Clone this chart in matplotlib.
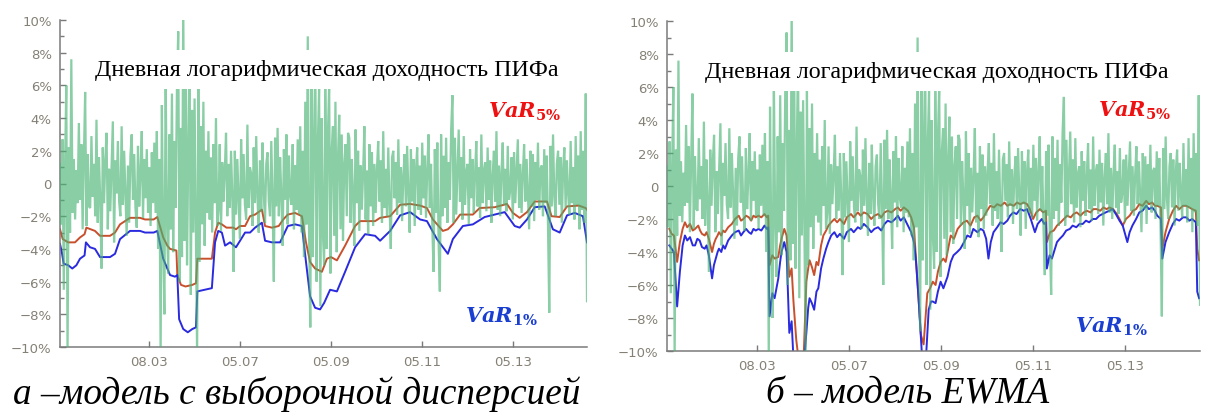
import numpy as np
import matplotlib
matplotlib.use('Agg')
import matplotlib.pyplot as plt
from matplotlib.ticker import MultipleLocator, FixedLocator


# daily log return of the fund, % (same in both panels)
ret_start, ret_end = 2003.04, 2014.63
returns = [
    # 2003 - mid 2003
    1.2, -2.5, 2.7, -6.5, 1.0, 6.0, -10.5, 2.2, -3.0, 7.6, -1.8, 1.5, -2.2, 0.8, -1.2, 3.7,
    -1.0, 2.4, -2.8, 1.6, 5.6, -2.6, 1.8, -1.4,
    # mid 2003 - 2005
    -1.5, 2.9, -0.8, 1.2, -2.0, 3.9, -2.4, 1.6, -1.0, -5.2, 2.2, -1.2, 1.4, 3.1, -2.8, 0.9,
    -1.7, 1.1, 3.8, -3.6, 1.4, -0.6, 2.6, -1.1, -2.0, 3.5, -1.3, 2.0, -0.7, -3.2, 1.1, -2.4,
    1.7, 3.0, -1.0, 1.8, -1.5, -2.7, 2.3, -1.4, 0.6, 3.2, -2.1, 1.5, -0.9, 2.1, -1.8, 1.0,
    -2.6, 1.9, -1.2,
    # first turbulent period
    2.5, -1.8, 3.2, -4.0, 1.5, -10.5, 4.8, -3.5, -8.0, 6.5, -2.0, -5.5, 3.0, -2.8, 5.5, -4.2,
    2.6, -1.5, 6.0, 9.3, -6.0, 3.4, -4.5, 11.0, -3.5, 7.0, -5.0, 2.0, 8.0, -6.8, 4.5, -3.0,
    5.2, -2.4, -10.5, 6.0, -4.8, 3.5, -2.5, 5.0, -3.8, 2.0, -1.8, 3.2, -2.2, 1.6, -3.0, 2.4,
    -1.2, 4.0, -2.6,
    # mid 2006 - 2008
    -1.6, 2.4, -2.9, 1.3, -1.1, 0.7, 3.1, -2.0, 1.2, -1.5, 2.0, -0.8, -5.4, 2.0, -1.9, 1.5,
    -0.9, -3.4, 2.7, -0.9, 1.8, -1.3, -2.2, 3.6, -1.5, 1.0, 0.6, -2.6, 2.2, -1.2, 2.9, -0.8,
    -3.0, 1.4, -1.7, 2.5, -0.6, -2.4, 1.2, 1.9, -1.1, -2.0, 2.6, -1.0, -6.0, 2.8, -1.4, 3.4,
    -2.0, 1.6, -0.8, -3.8, 2.1, -1.0, 3.0, -2.5, 1.7, -0.7, -1.3, 2.4, -2.8, 1.1, -1.6, 2.7,
    -1.9,
    # crisis 2008
    3.5, -3.0, 2.0, -4.5, 5.0, -2.5, 9.0, -3.0, -8.8, 6.5, -4.5, 3.0, 7.5, -6.0, 2.5, 5.8,
    -7.5, 4.0, -3.0, -5.0, 8.0, -4.0, 3.0, 6.0, -5.5, 2.0, 3.5, -3.2, 5.0, -4.2, 1.5, 4.2,
    -2.8, 3.0, -3.5, 1.2, 2.4, -2.0, 3.1,
    # 2009 - 2014
    2.8, -2.4, 1.5, -0.8, -3.8, 3.3, -1.2, 2.0, -2.9, 1.1,
    -1.6, 0.7, 3.5, -2.2, 0.8, -3.1, 2.4, -1.4, 1.9, -2.6,
    1.2, -1.8, 0.9, 2.6, -1.1, 1.4, -2.4, 3.2, -1.5, 0.9,
    -2.0, 2.2, -1.3, -4.0, 1.6, 2.0, -0.9, 1.3, -1.9, 2.7,
    -1.2, 1.0, -2.3, 0.6, 1.8, -1.4, 2.3, -0.7, -3.0, 2.1,
    -1.1, 1.5, -2.6, 0.8, 2.2, -1.6, 1.1, -1.9, 2.5, -0.9,
    1.7, -2.1, 0.9, 3.0, -1.5, 1.2, -2.6, -5.4, 2.1, -1.8,
    2.5, -3.6, -6.6, 3.0, -2.0, 1.7, -1.5, 2.8, -2.4, 1.3,
    -1.0, 3.3, 5.4, -2.4, 2.8, -1.9, 0.8, 3.3, -1.1, 1.6,
    -2.2, 2.9, -1.3, 0.7, 1.2, -2.5, 2.1, -0.9, 1.5, -1.8,
    0.6, 2.6, -1.4, 1.0, -2.1, 3.0, -1.2, 0.8, 1.3, -1.7,
    2.2, -1.0, 1.4, -2.4, 0.5, 2.0, -1.1, 3.2, -1.6, 1.1,
    -2.0, 0.7, 2.5, -1.3, 0.9, -1.7, 2.3, -1.0, -0.4, 1.6,
    -2.2, 1.9, -1.2, 0.8, 2.7, -1.5, 1.2, -1.8, 0.6, 2.4,
    -1.1, 1.5, -0.7, -2.8, 2.0, -1.4, 1.8, -2.3, 1.3, -1.0,
    2.5, -1.6, 0.9, 1.1, -2.0, 2.1, -1.2, 1.7, -2.6, -7.9,
    2.3, -1.4, 3.0, -0.8, -2.0, 1.2, 2.0, -1.3, 1.6, -2.4,
    0.9, 2.2, -1.5, 1.4, -0.6, -1.9, 2.6, -1.2, 1.0, -2.2,
    2.9, -1.3, 1.7, -2.8, 3.2, -1.6, 2.0, -2.4, 5.5, -7.2,
]

# panel a: sample variance model
var5_a_t = [2003.04, 2003.10, 2003.22, 2003.37, 2003.48, 2003.58, 2003.62, 2003.81, 2003.92,
            2004.14, 2004.25, 2004.36, 2004.58, 2004.80, 2004.91, 2005.10, 2005.18, 2005.31,
            2005.40, 2005.46, 2005.60, 2005.62, 2005.70, 2005.80, 2005.95, 2006.03, 2006.06,
            2006.38, 2006.45, 2006.52, 2006.60, 2006.70, 2006.85, 2006.91, 2007.00, 2007.11,
            2007.22, 2007.33, 2007.48, 2007.55, 2007.70, 2007.85, 2007.95, 2008.05, 2008.21,
            2008.36, 2008.45, 2008.54, 2008.65, 2008.80, 2008.91, 2009.00, 2009.13, 2009.31,
            2009.53, 2009.64, 2009.97, 2010.08, 2010.30, 2010.52, 2010.74, 2010.96, 2011.11,
            2011.24, 2011.46, 2011.57, 2011.68, 2011.84, 2012.12, 2012.27, 2012.60, 2012.87,
            2013.00, 2013.15, 2013.31, 2013.48, 2013.75, 2013.85, 2014.03, 2014.19, 2014.45,
            2014.60, 2014.63]
var5_a = [-2.8, -3.4, -3.6, -3.6, -3.3, -3.1, -2.7, -2.9, -3.2,
          -3.2, -3.0, -2.5, -2.1, -2.1, -2.2, -2.2, -2.05, -3.3,
          -3.8, -4.0, -4.1, -5.6, -6.2, -6.3, -6.2, -6.1, -4.6,
          -4.6, -3.0, -2.4, -2.5, -2.7, -2.7, -2.8, -2.6, -2.6,
          -2.0, -1.9, -1.6, -2.6, -2.7, -2.6, -2.2, -1.9, -1.8,
          -2.0, -3.6, -4.8, -5.2, -5.4, -4.6, -4.5, -4.7, -3.8,
          -2.6, -2.3, -2.3, -2.1, -2.0, -1.3, -1.25, -1.35, -1.5,
          -2.2, -2.9, -2.8, -2.5, -1.9, -1.9, -1.5, -1.45, -1.25,
          -1.8, -2.1, -1.75, -1.1, -1.1, -2.0, -2.05, -1.4, -1.35,
          -1.5, -1.6]

var1_a_t = [2003.04, 2003.08, 2003.12, 2003.22, 2003.31, 2003.40, 2003.48, 2003.58, 2003.61,
            2003.70, 2003.81, 2003.92, 2004.14, 2004.25, 2004.36, 2004.58, 2004.80, 2004.91,
            2005.10, 2005.18, 2005.31, 2005.46, 2005.57, 2005.62, 2005.66, 2005.75, 2005.85,
            2005.95, 2006.03, 2006.06, 2006.38, 2006.45, 2006.52, 2006.60, 2006.67, 2006.78,
            2006.91, 2007.00, 2007.11, 2007.22, 2007.33, 2007.48, 2007.55, 2007.70, 2007.88,
            2008.05, 2008.21, 2008.36, 2008.45, 2008.54, 2008.65, 2008.76, 2008.85, 2008.98,
            2009.13, 2009.31, 2009.53, 2009.75, 2009.97, 2010.08, 2010.30, 2010.52, 2010.74,
            2010.96, 2011.11, 2011.33, 2011.57, 2011.68, 2011.90, 2012.12, 2012.38, 2012.82,
            2013.04, 2013.15, 2013.31, 2013.48, 2013.70, 2013.88, 2014.03, 2014.19, 2014.36,
            2014.54, 2014.63]
var1_a = [-3.7, -4.2, -4.9, -5.0, -5.2, -5.0, -4.6, -4.4, -3.6,
          -3.9, -4.0, -4.5, -4.5, -4.3, -3.4, -2.9, -2.9, -3.0,
          -3.0, -2.9, -4.6, -5.6, -5.7, -5.6, -8.3, -8.9, -9.1,
          -8.9, -8.8, -6.6, -6.4, -3.6, -2.9, -3.0, -3.8, -3.6,
          -3.9, -3.5, -3.0, -3.0, -2.7, -2.4, -3.5, -3.6, -3.6,
          -2.6, -2.5, -2.6, -4.8, -6.9, -7.6, -7.7, -7.3, -6.5,
          -6.6, -5.4, -3.9, -3.1, -3.2, -3.5, -2.9, -1.95, -1.75,
          -2.2, -2.3, -3.4, -4.3, -3.4, -2.6, -2.5, -2.05, -1.75,
          -2.6, -2.7, -2.2, -1.45, -1.4, -2.8, -3.0, -1.95, -1.8,
          -2.0, -3.6]

# panel b: EWMA model, (year, %) pairs
var5_b_pts = [
    (2003.09, -2.6), (2003.14, -2.9), (2003.19, -3.0), (2003.26, -4.6), (2003.32, -3.4),
    (2003.38, -2.6), (2003.43, -2.2), (2003.48, -2.5), (2003.54, -2.3), (2003.60, -2.7),
    (2003.65, -2.6), (2003.72, -2.4), (2003.76, -2.7), (2003.80, -2.9), (2003.86, -3.0),
    (2003.90, -2.8), (2003.95, -3.2), (2004.02, -4.0), (2004.06, -3.5), (2004.10, -3.2),
    (2004.14, -3.0), (2004.17, -2.8), (2004.22, -3.0), (2004.26, -2.7), (2004.30, -2.8),
    (2004.37, -2.5), (2004.45, -2.3), (2004.52, -2.0), (2004.60, -1.8), (2004.65, -2.1),
    (2004.70, -2.0), (2004.76, -1.8), (2004.82, -1.9), (2004.87, -2.1), (2004.92, -1.8),
    (2004.97, -1.9), (2005.03, -1.8), (2005.09, -1.9), (2005.16, -1.7), (2005.21, -1.9),
    (2005.24, -1.8), (2005.27, -4.8), (2005.33, -4.2), (2005.38, -4.4), (2005.46, -4.3),
    (2005.50, -3.6), (2005.53, -3.2), (2005.59, -2.6), (2005.64, -3.0), (2005.70, -5.5),
    (2005.75, -5.0), (2005.79, -7.0), (2005.85, -9.3), (2005.90, -10.5), (2006.01, -10.5),
    (2006.07, -5.8), (2006.11, -5.0), (2006.14, -4.5), (2006.19, -4.9), (2006.24, -5.4),
    (2006.29, -4.6), (2006.33, -4.8), (2006.39, -3.6), (2006.44, -3.0), (2006.50, -2.7),
    (2006.55, -2.4), (2006.61, -2.2), (2006.68, -2.0), (2006.74, -2.2), (2006.80, -2.0),
    (2006.89, -2.3), (2006.95, -1.9), (2007.04, -1.7), (2007.10, -1.9), (2007.19, -1.6),
    (2007.25, -1.8), (2007.32, -1.6), (2007.40, -1.7), (2007.48, -2.0), (2007.55, -1.8),
    (2007.63, -1.7), (2007.70, -1.9), (2007.77, -1.6), (2007.84, -1.5), (2007.92, -1.6),
    (2008.00, -1.4), (2008.06, -1.3), (2008.12, -1.5), (2008.19, -1.3), (2008.28, -1.5),
    (2008.35, -1.9), (2008.41, -2.5), (2008.49, -6.0), (2008.56, -9.0), (2008.62, -9.6),
    (2008.70, -6.5), (2008.76, -6.2), (2008.82, -5.8), (2008.88, -6.0), (2008.93, -5.2),
    (2008.99, -4.6), (2009.05, -4.4), (2009.10, -4.6), (2009.14, -4.0), (2009.21, -3.0),
    (2009.28, -3.2), (2009.36, -2.6), (2009.42, -2.4), (2009.49, -2.2), (2009.56, -2.1),
    (2009.64, -2.4), (2009.72, -1.9), (2009.79, -1.8), (2009.86, -2.1), (2009.92, -1.9),
    (2010.00, -1.5), (2010.07, -1.2), (2010.15, -1.3), (2010.22, -1.1), (2010.30, -1.2),
    (2010.38, -1.0), (2010.44, -1.2), (2010.50, -1.1), (2010.58, -1.2), (2010.65, -1.0),
    (2010.72, -1.1), (2010.80, -1.0), (2010.87, -1.1), (2010.93, -1.4), (2011.00, -2.0),
    (2011.07, -1.6), (2011.15, -1.4), (2011.22, -1.6), (2011.28, -1.5), (2011.30, -3.4),
    (2011.37, -2.8), (2011.45, -2.7), (2011.52, -2.4), (2011.60, -2.2), (2011.67, -2.0),
    (2011.74, -1.8), (2011.82, -1.9), (2011.88, -1.7), (2011.95, -1.6), (2012.03, -1.8),
    (2012.10, -1.6), (2012.17, -1.5), (2012.25, -1.6), (2012.31, -1.4), (2012.38, -1.4),
    (2012.46, -1.5), (2012.53, -1.3), (2012.60, -1.4), (2012.66, -1.3), (2012.74, -1.4),
    (2012.82, -1.7), (2012.88, -2.0), (2012.95, -2.4), (2013.02, -2.0), (2013.10, -1.8),
    (2013.17, -1.5), (2013.24, -1.4), (2013.31, -1.1), (2013.38, -1.2), (2013.46, -0.9),
    (2013.52, -1.1), (2013.59, -1.0), (2013.65, -1.2), (2013.70, -1.2), (2013.78, -1.3),
    (2013.81, -3.8), (2013.88, -2.8), (2013.96, -2.0), (2014.04, -1.5), (2014.11, -1.2),
    (2014.18, -1.4), (2014.26, -1.2), (2014.33, -1.2), (2014.40, -1.3), (2014.46, -1.4),
    (2014.54, -1.5), (2014.57, -3.8), (2014.61, -4.5),
]

var1_b_pts = [
    (2003.09, -3.6), (2003.14, -3.8), (2003.19, -4.0), (2003.26, -7.3), (2003.32, -5.2),
    (2003.38, -3.6), (2003.43, -3.0), (2003.48, -3.3), (2003.54, -3.1), (2003.60, -3.6),
    (2003.65, -3.6), (2003.70, -3.2), (2003.75, -3.3), (2003.80, -3.7), (2003.86, -3.8),
    (2003.90, -3.6), (2003.95, -4.2), (2004.02, -5.6), (2004.06, -4.8), (2004.10, -4.4),
    (2004.14, -4.0), (2004.17, -3.8), (2004.22, -4.0), (2004.26, -3.6), (2004.30, -3.8),
    (2004.37, -3.3), (2004.45, -3.0), (2004.52, -2.8), (2004.60, -2.7), (2004.65, -3.0),
    (2004.70, -2.8), (2004.76, -2.6), (2004.82, -2.8), (2004.87, -2.9), (2004.92, -2.6),
    (2004.97, -2.7), (2005.03, -2.6), (2005.09, -2.7), (2005.16, -2.4), (2005.21, -2.6),
    (2005.24, -2.5), (2005.27, -7.9), (2005.33, -6.5), (2005.38, -6.8), (2005.46, -5.6),
    (2005.50, -4.6), (2005.53, -4.0), (2005.59, -3.4), (2005.64, -4.0), (2005.70, -8.9),
    (2005.75, -8.2), (2005.79, -10.5), (2005.85, -11.0), (2006.01, -11.0), (2006.07, -8.9),
    (2006.11, -7.4), (2006.14, -6.8), (2006.19, -7.1), (2006.24, -7.5), (2006.29, -6.4),
    (2006.33, -6.2), (2006.39, -5.0), (2006.44, -4.4), (2006.50, -3.8), (2006.55, -3.4),
    (2006.61, -3.0), (2006.68, -2.8), (2006.74, -3.1), (2006.80, -2.9), (2006.89, -3.2),
    (2006.95, -2.8), (2007.04, -2.6), (2007.10, -2.8), (2007.19, -2.5), (2007.25, -2.6),
    (2007.32, -2.3), (2007.40, -2.5), (2007.48, -2.8), (2007.55, -2.6), (2007.63, -2.5),
    (2007.70, -2.7), (2007.77, -2.3), (2007.84, -2.1), (2007.92, -2.2), (2008.00, -2.0),
    (2008.06, -1.8), (2008.12, -2.1), (2008.19, -1.9), (2008.28, -2.4), (2008.35, -2.8),
    (2008.41, -3.4), (2008.45, -4.4), (2008.51, -6.8), (2008.60, -11.0), (2008.66, -11.0),
    (2008.73, -7.5), (2008.78, -7.0), (2008.82, -7.0), (2008.88, -7.1), (2008.93, -6.4),
    (2008.99, -5.8), (2009.05, -6.2), (2009.10, -5.8), (2009.14, -5.5), (2009.21, -4.6),
    (2009.27, -4.2), (2009.35, -4.0), (2009.42, -3.8), (2009.50, -3.4), (2009.57, -3.0),
    (2009.64, -3.1), (2009.70, -2.6), (2009.79, -2.8), (2009.86, -2.6), (2009.92, -2.7),
    (2009.98, -3.2), (2010.03, -4.4), (2010.08, -3.4), (2010.14, -2.8), (2010.22, -2.5),
    (2010.29, -2.2), (2010.36, -2.3), (2010.44, -2.1), (2010.50, -1.8), (2010.57, -1.6),
    (2010.64, -1.7), (2010.72, -1.4), (2010.80, -1.5), (2010.87, -1.4), (2010.95, -2.0),
    (2011.04, -2.8), (2011.10, -2.3), (2011.19, -2.0), (2011.24, -2.3), (2011.28, -2.2),
    (2011.30, -5.0), (2011.36, -4.2), (2011.41, -4.4), (2011.52, -3.4), (2011.58, -3.2),
    (2011.65, -3.0), (2011.72, -2.7), (2011.80, -2.6), (2011.86, -2.4), (2011.94, -2.5),
    (2012.01, -2.3), (2012.08, -2.3), (2012.15, -2.1), (2012.22, -2.2), (2012.30, -2.0),
    (2012.37, -2.0), (2012.44, -1.8), (2012.51, -1.7), (2012.58, -1.6), (2012.66, -1.5),
    (2012.73, -1.4), (2012.80, -1.7), (2012.88, -2.1), (2012.95, -2.4), (2013.05, -3.4),
    (2013.10, -2.8), (2013.16, -2.4), (2013.24, -2.0), (2013.31, -1.6), (2013.38, -1.5),
    (2013.46, -1.2), (2013.52, -1.4), (2013.59, -1.3), (2013.65, -1.5), (2013.70, -1.8),
    (2013.78, -2.0), (2013.81, -4.4), (2013.88, -3.4), (2013.96, -2.8), (2014.04, -2.3),
    (2014.11, -2.0), (2014.18, -2.1), (2014.26, -1.9), (2014.33, -1.9), (2014.40, -2.1),
    (2014.46, -2.0), (2014.54, -2.2), (2014.57, -6.4), (2014.61, -6.8),
]

tick_years = [2005, 2007, 2009, 2011, 2013]
tick_labels = ['08.03', '05.07', '05.09', '05.11', '05.13']
y_ticks = [-10, -8, -6, -4, -2, 0, 2, 4, 6, 8, 10]
y_labels = ['\u221210%', '\u22128%', '\u22126%', '\u22124%', '\u22122%', '0',
            '2%', '4%', '6%', '8%', '10%']

title_text = 'Дневная логарифмическая доходность ПИФа'
captions = ['а –модель с выборочной дисперсией', 'б – модель EWMA']

green = '#4ab475'
red_line = '#c8502d'
blue_line = '#2a2ade'
axis_gray = '#7a7a7a'
label_gray = '#858075'

ret_t = np.linspace(ret_start, ret_end, len(returns))
var5_b_t, var5_b = zip(*var5_b_pts)
var1_b_t, var1_b = zip(*var1_b_pts)

fig = plt.figure(figsize=(12.24, 4.14), dpi=100)
ax_a = fig.add_axes([60 / 1224, 1 - 348 / 414, 527 / 1224, 327 / 414])
ax_b = fig.add_axes([667 / 1224, 1 - 352 / 414, 533 / 1224, 330 / 414])

panels = [
    (ax_a, var5_a_t, var5_a, var1_a_t, var1_a, 6.97, 4.07, -8.47, 2012.45, 2011.95),
    (ax_b, var5_b_t, var5_b, var1_b_t, var1_b, 6.95, 4.24, -8.85, 2012.41, 2011.91),
]

for ax, t5, v5, t1, v1, ty, y5, y1, x5, x1 in panels:
    ax.plot(t5, v5, color=red_line, lw=1.4, zorder=2)
    ax.plot(t1, v1, color=blue_line, lw=1.4, zorder=2)
    ax.plot(ret_t, returns, color=green, lw=1.6, alpha=0.65, zorder=3,
            solid_joinstyle='miter')

    ax.set_xlim(2003.04, 2014.63)
    ax.set_ylim(-10, 10)

    for s in ['top', 'right']:
        ax.spines[s].set_visible(False)
    for s in ['left', 'bottom']:
        ax.spines[s].set_color(axis_gray)
        ax.spines[s].set_linewidth(1.1)

    ax.xaxis.set_major_locator(FixedLocator(tick_years))
    ax.set_xticklabels(tick_labels)
    ax.yaxis.set_major_locator(FixedLocator(y_ticks))
    ax.set_yticklabels(y_labels)
    ax.yaxis.set_minor_locator(MultipleLocator(1))
    ax.tick_params(direction='in', colors=axis_gray, labelcolor=label_gray,
                   labelsize=9.5, length=4, width=1, pad=6)
    ax.tick_params(axis='y', which='minor', direction='in', length=3,
                   width=1, colors=axis_gray)

    ax.text(2008.9, ty, title_text, ha='center', va='center', fontsize=17.3,
            family='Liberation Serif', color='black', zorder=5,
            bbox=dict(facecolor='white', edgecolor='none', pad=6.5))
    ax.text(x5, y5, r'$\mathbfit{VaR}_{\mathbf{5\%}}$', color='#ee1111',
            fontsize=15, ha='left', va='baseline', math_fontfamily='dejavuserif',
            zorder=6)
    ax.text(x1, y1, r'$\mathbfit{VaR}_{\mathbf{1\%}}$', color='#1a3fd0',
            fontsize=15, ha='left', va='baseline', math_fontfamily='dejavuserif',
            zorder=6)

fig.text(297 / 1224, 1 - 404 / 414, captions[0], ha='center', va='baseline',
         fontsize=26.8, family='Liberation Serif', style='italic')
fig.text(908 / 1224, 1 - 404 / 414, captions[1], ha='center', va='baseline',
         fontsize=26.8, family='Liberation Serif', style='italic')

fig.savefig('out.png', dpi=100)
